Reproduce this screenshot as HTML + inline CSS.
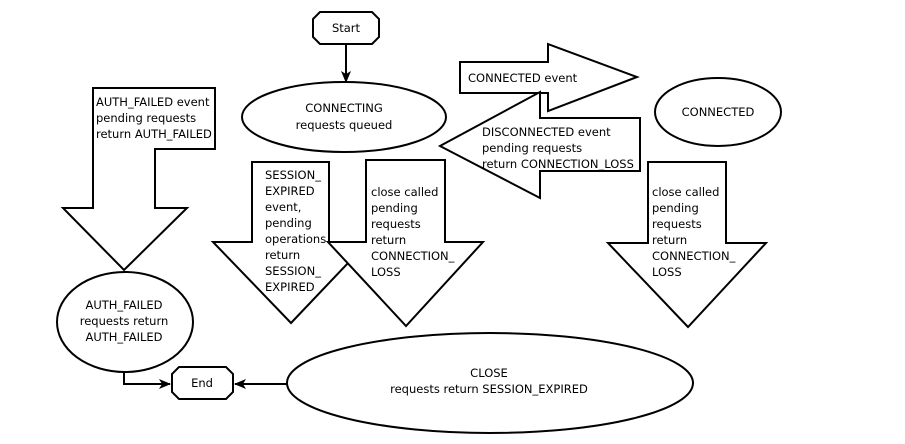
<!DOCTYPE html>
<html><head><meta charset="utf-8"><style>
html,body{margin:0;padding:0;background:#fff;}
svg{display:block;}
text{font-family:"DejaVu Sans","Liberation Sans",sans-serif;font-size:11.5px;fill:#000;}
</style></head><body>
<svg width="905" height="444" viewBox="0 0 905 444" xmlns="http://www.w3.org/2000/svg">
<defs><marker id="ah" markerWidth="12" markerHeight="10" refX="11" refY="5" orient="auto" markerUnits="userSpaceOnUse"><path d="M0,0 L12,5 L0,10 L3,5 Z" fill="#000"/></marker></defs>
<g fill="#fff" stroke="#000" stroke-width="2">
<path d="M320,12 H372 L379,19 V37 L372,44 H320 L313,37 V19 Z"/>
<line x1="346" y1="44" x2="346" y2="82" marker-end="url(#ah)"/>
<ellipse cx="344" cy="117" rx="102" ry="35"/>
<ellipse cx="718" cy="112" rx="63" ry="34"/>
<path d="M460,62 H548 V44 L637,77 L548,111 V93 H460 Z"/>
<path d="M640,118 H540 V92 L440,146 L540,198 V171 H640 Z"/>
<path d="M93,88 H215 V149 H155 V208 H187 L124,270 L63,208 H93 Z"/>
<path d="M252,162 H329 V242 H368 L291,323 L213,242 H252 Z"/>
<path d="M366,160 H445 V242 H483 L406,326 L328,242 H366 Z"/>
<path d="M648,162 H726 V243 H766 L688,327 L608,243 H648 Z"/>
<ellipse cx="125" cy="322" rx="68" ry="50"/>
<ellipse cx="490" cy="383" rx="203" ry="50"/>
<path d="M179,367 H226 L233,374 V392 L226,399 H179 L172,392 V374 Z"/>
<polyline fill="none" points="124,372 124,384 170,384" marker-end="url(#ah)"/>
<line x1="287" y1="384" x2="235" y2="384" marker-end="url(#ah)"/>
</g>
<text x="346" y="32" text-anchor="middle">Start</text>
<text x="344" y="112" text-anchor="middle">CONNECTING</text>
<text x="344" y="129" text-anchor="middle">requests queued</text>
<text x="718" y="116" text-anchor="middle">CONNECTED</text>
<text x="468" y="82">CONNECTED event</text>
<text x="482" y="136">DISCONNECTED event</text>
<text x="482" y="152">pending requests</text>
<text x="482" y="168">return CONNECTION_LOSS</text>
<text x="96" y="106">AUTH_FAILED event</text>
<text x="96" y="122">pending requests</text>
<text x="96" y="138">return AUTH_FAILED</text>
<text x="265" y="179">SESSION_</text>
<text x="265" y="195">EXPIRED</text>
<text x="265" y="211">event,</text>
<text x="265" y="227">pending</text>
<text x="265" y="243">operations</text>
<text x="265" y="259">return</text>
<text x="265" y="275">SESSION_</text>
<text x="265" y="291">EXPIRED</text>
<text x="371" y="196">close called</text>
<text x="371" y="212">pending</text>
<text x="371" y="228">requests</text>
<text x="371" y="244">return</text>
<text x="371" y="260">CONNECTION_</text>
<text x="371" y="276">LOSS</text>
<text x="652" y="196">close called</text>
<text x="652" y="212">pending</text>
<text x="652" y="228">requests</text>
<text x="652" y="244">return</text>
<text x="652" y="260">CONNECTION_</text>
<text x="652" y="276">LOSS</text>
<text x="124" y="309" text-anchor="middle">AUTH_FAILED</text>
<text x="124" y="325" text-anchor="middle">requests return</text>
<text x="124" y="341" text-anchor="middle">AUTH_FAILED</text>
<text x="202" y="387" text-anchor="middle">End</text>
<text x="489" y="377" text-anchor="middle">CLOSE</text>
<text x="489" y="393" text-anchor="middle">requests return SESSION_EXPIRED</text>
</svg>
</body></html>
